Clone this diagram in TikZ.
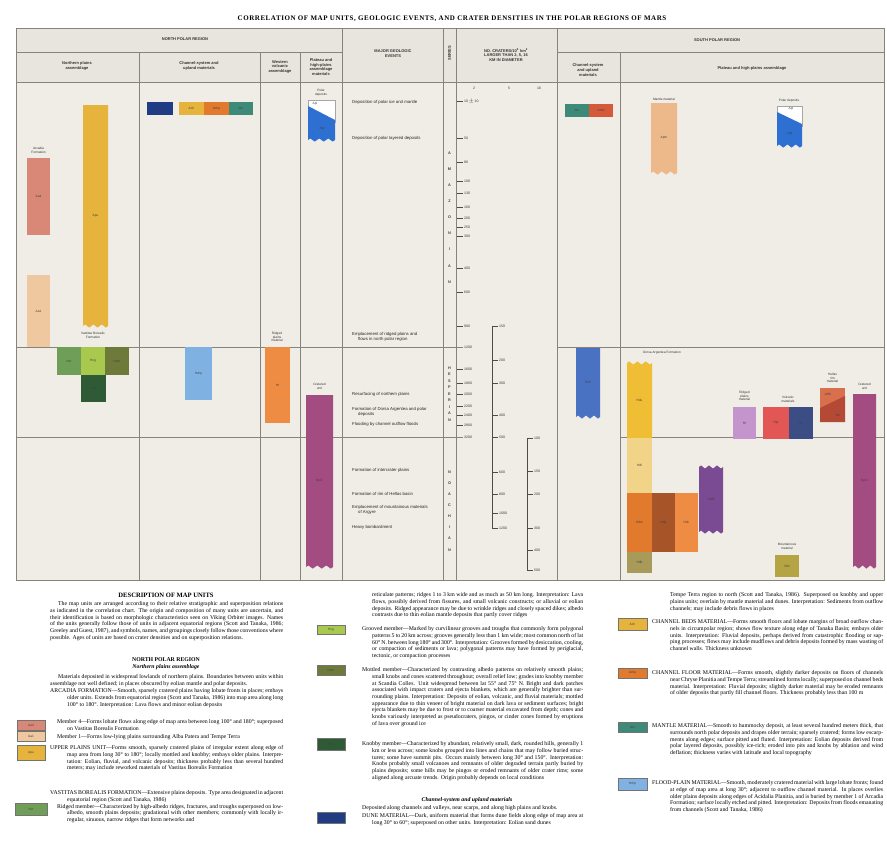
\documentclass[tikz,border=0pt]{standalone}
\usepackage{fontspec}
\setmainfont{Liberation Serif}
\setsansfont{Liberation Sans}
\usetikzlibrary{decorations.pathmorphing}
\definecolor{chartbg}{HTML}{EFEDE6}
\definecolor{headbg}{HTML}{E7E5DD}
\definecolor{gridc}{HTML}{85837C}
\definecolor{cPink}{HTML}{D98878}
\definecolor{cBeige}{HTML}{F0C8A0}
\definecolor{cGold}{HTML}{E6B43C}
\definecolor{cNavy}{HTML}{1F3C84}
\definecolor{cOrange}{HTML}{E27A2E}
\definecolor{cTeal}{HTML}{3E8A78}
\definecolor{cBlue}{HTML}{2E6FD2}
\definecolor{cGreenM}{HTML}{6E9E58}
\definecolor{cGreenL}{HTML}{A9C84E}
\definecolor{cOlive}{HTML}{6E7A3A}
\definecolor{cGreenD}{HTML}{2E5A36}
\definecolor{cSky}{HTML}{7FB2E2}
\definecolor{cOrangeL}{HTML}{EE8C44}
\definecolor{cMagenta}{HTML}{A24C82}
\definecolor{cRed}{HTML}{D45A3A}
\definecolor{cTan}{HTML}{EDB98A}
\definecolor{cBlueS}{HTML}{4A72C2}
\definecolor{cYellow}{HTML}{F0BE34}
\definecolor{cYellowL}{HTML}{F2D488}
\definecolor{cBrown}{HTML}{A65428}
\definecolor{cKhakiD}{HTML}{A89A58}
\definecolor{cPurple}{HTML}{7A4A92}
\definecolor{cLilac}{HTML}{C494CC}
\definecolor{cRose}{HTML}{E25656}
\definecolor{cSlate}{HTML}{3C4C84}
\definecolor{cSalmon}{HTML}{D8704E}
\definecolor{cRust}{HTML}{B44A36}
\definecolor{cKhaki}{HTML}{B4A444}
\tikzset{
  gridline/.style={draw=gridc, line width=0.7pt},
  hdr/.style={font=\sffamily\bfseries\fontsize{4}{4.8}\selectfont, align=center, inner sep=0pt, text=black!80},
  ulbl/.style={font=\sffamily\fontsize{3.2}{3.6}\selectfont, inner sep=0pt, text=black!75},
  olbl/.style={font=\sffamily\fontsize{3.2}{3.8}\selectfont, align=center, inner sep=0.4pt, text=black!80},
  evt/.style={font=\sffamily\fontsize{4.3}{5}\selectfont, anchor=west, align=left, inner sep=0pt, text=black!85},
  num/.style={font=\sffamily\fontsize{3.5}{4}\selectfont, anchor=west, inner sep=0pt, text=black!80},
  tickline/.style={draw=black!70, line width=0.5pt},
  dtxt/.style={font=\fontsize{5.8}{6.7}\selectfont, anchor=north west, inner sep=0pt, align=justify},
  dhead/.style={font=\bfseries\fontsize{5.8}{6}\selectfont, inner sep=0pt},
  swatch/.style={draw=black!55, line width=0.4pt},
  zz/.style={decoration={zigzag, segment length=#1, amplitude=1.6pt}},
}
% name x1 y1 x2 y2 color label
\newcommand{\ubox}[7]{%
  \fill[#6] (#2,#3) rectangle (#4,#5);
  \node[ulbl] (#1) at ({(#2+#4)/2},{(#3+#5)/2}) {#7};}
\newcommand{\wbot}[7]{%
  \pgfmathsetmacro{\segl}{(#4-#2)/3}%
  \fill[#6] (#2,#3) -- (#4,#3) -- (#4,#5) decorate[zz=\segl pt]{-- (#2,#5)} -- cycle;
  \node[ulbl] (#1) at ({(#2+#4)/2},{(#3+#5)/2}) {#7};}
\newcommand{\wtop}[7]{%
  \pgfmathsetmacro{\segl}{(#4-#2)/3}%
  \fill[#6] (#2,#3) decorate[zz=\segl pt]{-- (#4,#3)} -- (#4,#5) -- (#2,#5) -- cycle;
  \node[ulbl] (#1) at ({(#2+#4)/2},{(#3+#5)/2}) {#7};}
\newcommand{\wboth}[7]{%
  \pgfmathsetmacro{\segl}{(#4-#2)/3}%
  \fill[#6] (#2,#3) decorate[zz=\segl pt]{-- (#4,#3)} -- (#4,#5) decorate[zz=\segl pt]{-- (#2,#5)} -- cycle;
  \node[ulbl] (#1) at ({(#2+#4)/2},{(#3+#5)/2}) {#7};}
% name x1 y1 x2 y2 color label (description swatch)
\newcommand{\dsw}[7]{%
  \filldraw[swatch, fill=#6] (#2,#3) rectangle (#4,#5);
  \node[ulbl] (#1) at ({(#2+#4)/2},{(#3+#5)/2}) {#7};}
% hanging-indent paragraph (ends its own paragraph inside the node group)
\newcommand{\hgp}[2]{\hangindent=#1\relax\hangafter=1\relax #2\par}

\begin{document}
\begin{tikzpicture}[x=1pt, y=-1pt]
\useasboundingbox (0,0) rectangle (887,849);
\fill[white] (0,0) rectangle (887,849);

% ---------- title ----------
\node[font=\bfseries\fontsize{7}{7}\selectfont\addfontfeature{LetterSpace=8}, inner sep=0pt] (title) at (452,19)
  {CORRELATION OF MAP UNITS, GEOLOGIC EVENTS, AND CRATER DENSITIES IN THE POLAR REGIONS OF MARS};

% ---------- chart frame ----------
\fill[chartbg] (16,28) rectangle (884,580);
\fill[headbg] (16,28) rectangle (884,82);
\draw[gridline] (16,28) rectangle (884,580);
\draw[gridline] (16,52) -- (342,52);
\draw[gridline] (557,52) -- (884,52);
\draw[gridline] (16,82) -- (884,82);
\foreach \xx in {139,260,300} { \draw[gridline] (\xx,52) -- (\xx,580); }
\foreach \xx in {342,443,456,557} { \draw[gridline] (\xx,28) -- (\xx,580); }
\draw[gridline] (620,52) -- (620,580);
% era boundaries
\draw[gridline] (16,347) -- (463,347);
\draw[gridline] (16,437) -- (463,437);
\draw[gridline] (557,347) -- (884,347);
\draw[gridline] (620,437) -- (884,437);

% ---------- headers ----------
\node[hdr] (hnorth) at (185,39) {NORTH POLAR REGION};
\node[hdr] (hsouth) at (717,40) {SOUTH POLAR REGION};
\node[hdr] (hn1) at (77,66) {Northern plains\\assemblage};
\node[hdr] (hn2) at (199,66) {Channel-system and\\upland materials};
\node[hdr] (hn3) at (280,67) {Western\\volcanic\\assemblage};
\node[hdr] (hn4) at (321,67) {Plateau and\\high-plains\\assemblage\\materials};
\node[hdr] (hev) at (393,54) {MAJOR GEOLOGIC\\EVENTS};
\node[hdr, rotate=90] (hser) at (449.5,53) {SERIES};
\node[hdr] (hcr) at (506,55) {NO. CRATERS/10\textsuperscript{6} km\textsuperscript{2}\\LARGER THAN 2, 5, 16\\KM IN DIAMETER};
\node[hdr] (hs1) at (588,70) {Channel-system\\and upland\\materials};
\node[hdr] (hs2) at (752,68) {Plateau and high-plains assemblage};

% crater size column heads
\node[num, anchor=center] (d2) at (474,88) {2};
\node[num, anchor=center] (d5) at (509,88) {5};
\node[num, anchor=center] (d16) at (539,88) {16};

% ---------- series letters ----------
\foreach \L [count=\i from 0] in {A,M,A,Z,O,N,I,A,N} {
  \node[ulbl, font=\sffamily\bfseries\fontsize{3.8}{4}\selectfont] (sa\i) at (449.5,{153+\i*16.1}) {\L}; }
\foreach \L [count=\i from 0] in {H,E,S,P,E,R,I,A,N} {
  \node[ulbl, font=\sffamily\bfseries\fontsize{3.8}{4}\selectfont] (sh\i) at (449.5,{368+\i*6.5}) {\L}; }
\foreach \L [count=\i from 0] in {N,O,A,C,H,I,A,N} {
  \node[ulbl, font=\sffamily\bfseries\fontsize{3.8}{4}\selectfont] (sn\i) at (449.5,{472+\i*11.1}) {\L}; }

% ---------- crater numbers ----------
\foreach \yy/\tt [count=\i] in {101/10\,$\pm$\,10, 138/50, 162/80, 181/100, 193/130, 207/160, 218/200, 227/250, 236/300, 268/400, 292/600, 326/900, 369/1600, 383/1800, 394/2000, 406/2200, 415/2400, 425/2800} {
  \draw[tickline] (457,\yy) -- (463,\yy);
  \node[num] (na\i) at (464,\yy) {\tt}; }
\node[num] (na0) at (464,347) {1200};
\node[num] (nz0) at (464,437) {3200};
\draw[tickline] (492,326) -- (492,528);
\foreach \yy/\tt [count=\i] in {326/150, 360/200, 383/300, 415/400, 437/500, 472/600, 494/800, 513/1000, 528/1200} {
  \draw[tickline] (492,\yy) -- (498,\yy);
  \node[num] (nb\i) at (499,\yy) {\tt}; }
\draw[tickline] (527,438) -- (527,570);
\foreach \yy/\tt [count=\i] in {438/100, 471/150, 494/200, 528/300, 550/400, 570/500} {
  \draw[tickline] (527,\yy) -- (533,\yy);
  \node[num] (nc\i) at (534,\yy) {\tt}; }

% ---------- events ----------
\node[evt] (e1) at (352,102) {Deposition of polar ice and mantle};
\node[evt] (e2) at (352,138) {Deposition of polar layered deposits};
\node[evt] (e3) at (352,337) {Emplacement of ridged plains and\\\hspace*{6pt}flows in north polar region};
\node[evt] (e4) at (352,394) {Resurfacing of northern plains};
\node[evt] (e5) at (352,412) {Formation of Dorsa Argentea and polar\\\hspace*{6pt}deposits};
\node[evt] (e6) at (352,424) {Flooding by channel outflow floods};
\node[evt] (e7) at (352,470) {Formation of intercrater plains};
\node[evt] (e8) at (352,494) {Formation of rim of Hellas basin};
\node[evt] (e9) at (352,510) {Emplacement of mountainous materials\\\hspace*{6pt}of Argyre};
\node[evt] (e10) at (352,527) {Heavy bombardment};

% ---------- north polar units ----------
\node[olbl] (l-aa) at (38.5,150) {Arcadia\\Formation};
\ubox{aa4}{27}{158}{50}{235}{cPink}{Aa4}
\ubox{aa1}{27}{275}{50}{347}{cBeige}{Aa1}
\wbot{apu}{83}{105}{108}{326}{cGold}{Apu}
\node[olbl] (l-vb) at (93,335) {Vastitas Borealis\\Formation};
\ubox{hvr}{57}{347}{81}{375}{cGreenM}{Hvr}
\ubox{hvg}{81}{347}{105}{375}{cGreenL}{Hvg}
\ubox{hvm}{105}{347}{129}{375}{cOlive}{Hvm}
\ubox{hvk}{81}{375}{106}{402}{cGreenD}{Hvk}
\ubox{ad}{147}{102}{173}{115}{cNavy}{Ad}
\ubox{ach}{179}{102}{204}{115}{cGold}{Ach}
\ubox{achp}{204}{102}{229}{115}{cOrange}{Achp}
\ubox{am}{229}{102}{253}{115}{cTeal}{Am}
\ubox{hchp}{185}{347}{212}{400}{cSky}{Hchp}
\node[olbl] (l-rp) at (277,337) {Ridged\\plains\\material};
\ubox{hr}{265}{347}{290}{423}{cOrangeL}{Hr}
\node[olbl] (l-pd) at (321,93) {Polar\\deposits};
\filldraw[draw=black!35, line width=0.3pt, fill=white] (308,100) rectangle (335,122);
\fill[cBlue] (308,106) -- (335,120) -- (335,140) decorate[zz=9pt]{-- (308,140)} -- cycle;
\node[ulbl] (api) at (315,103.5) {Api};
\node[ulbl] (apl) at (322,129) {Apl};
\node[olbl] (l-cu) at (319.5,386) {Cratered\\unit};
\wbot{npl}{306}{395}{333}{567}{cMagenta}{Npl1}

% ---------- south polar units ----------
\ubox{sam}{565}{104}{589}{117}{cTeal}{Am}
\ubox{samd}{589}{104}{613}{117}{cRed}{Amd}
\node[olbl] (l-mm) at (664,99) {Mantle material};
\wbot{sapm}{651}{103}{677}{173}{cTan}{Apm}
\node[olbl] (l-spd) at (789,101) {Polar deposits};
\filldraw[draw=black!35, line width=0.3pt, fill=white] (777,106) rectangle (802,126);
\fill[cBlue] (777,112) -- (802,124) -- (802,146) decorate[zz=8.33pt]{-- (777,146)} -- cycle;
\node[ulbl] (sapi) at (791,109) {Api};
\node[ulbl] (sapl) at (790,134) {Apl};
\wbot{shch}{576}{348}{600}{417}{cBlueS}{Hch}
\node[olbl] (l-da) at (662,353) {Dorsa Argentea Formation};
\wtop{hdu}{627}{363}{652}{438}{cYellow}{Hdu}
\ubox{hdl}{627}{438}{652}{493}{cYellowL}{Hdl}
\ubox{hdm}{627}{493}{652}{552}{cOrange}{Hdm}
\ubox{hdp}{652}{493}{675}{552}{cBrown}{Hdp}
\ubox{hdc}{675}{493}{698}{552}{cOrangeL}{Hdc}
\ubox{hdb}{627}{552}{652}{573}{cKhakiD}{Hdb}
\wboth{hpl3}{699}{467}{723}{532}{cPurple}{Hpl3}
\node[olbl] (l-srp) at (744.5,396) {Ridged\\plains\\material};
\ubox{shr}{733}{407}{756}{439}{cLilac}{Hr}
\node[olbl] (l-vm) at (788,399) {Volcanic\\materials};
\ubox{hpl}{763}{407}{789}{439}{cRose}{Hpl}
\ubox{hv}{789}{407}{813}{439}{cSlate}{Hv}
\node[olbl] (l-hr) at (832.5,378) {Hellas\\rim\\material};
\fill[cSalmon] (820,388) rectangle (845,422);
\fill[cRust] (820,408) -- (845,396) -- (845,422) -- (820,422) -- cycle;
\node[ulbl] (ahh) at (828,394) {AHh};
\node[ulbl] (hh) at (838,415) {Hh};
\node[olbl] (l-scu) at (864.5,386) {Cratered\\unit};
\wbot{snpl}{853}{394}{876}{567}{cMagenta}{Npl1}
\node[olbl] (l-mtn) at (787,546) {Mountainous\\material};
\ubox{nm}{775}{555}{799}{577}{cKhaki}{Nm}

% ---------- description of map units ----------
\node[dhead, font=\bfseries\fontsize{6.6}{7}\selectfont] (dtitle) at (166,595) {DESCRIPTION OF MAP UNITS};
\node[dtxt, text width=233pt] (dintro) at (50,601.5) {\hspace*{8pt}The map units are arranged according to their relative stratigraphic and superposition relations as indicated in the correlation chart. The origin and composition of many units are uncertain, and their identification is based on morphologic characteristics seen on Viking Orbiter images. Names of the units generally follow those of units in adjacent equatorial regions (Scott and Tanaka, 1986; Greeley and Guest, 1987), and symbols, names, and groupings closely follow those conventions where possible. Ages of units are based on crater densities and on superposition relations.};
\node[dhead] (dnpr) at (166,660) {NORTH POLAR REGION};
\node[dhead, font=\bfseries\itshape\fontsize{5.8}{6}\selectfont] (dnpa) at (166,667.5) {Northern plains assemblage};
\node[dtxt, text width=233pt] (dnpp) at (50,674.5) {\hspace*{8pt}Materials deposited in widespread lowlands of northern plains. Boundaries between units within assemblage not well defined; in places obscured by eolian mantle and polar deposits.};
\node[dtxt, text width=233pt] (darc) at (50,688.5) {\hgp{17pt}{ARCADIA FORMATION—Smooth, sparsely cratered plains having lobate fronts in places; embays older units. Extends from equatorial region (Scott and Tanaka, 1986) into map area along long 100° to 180°. Interpretation: Lava flows and minor eolian deposits}};
\node[dtxt, text width=226pt] (dm4) at (57,719.5) {\hgp{10pt}{Member 4—Forms lobate flows along edge of map area between long 100° and 180°; superposed on Vastitas Borealis Formation}};
\node[dtxt, text width=226pt] (dm1) at (57,734) {\hgp{10pt}{Member 1—Forms low-lying plains surrounding Alba Patera and Tempe Terra}};
\node[dtxt, text width=233pt] (dapu) at (50,745.5) {\hgp{17pt}{UPPER PLAINS UNIT—Forms smooth, sparsely cratered plains of irregular extent along edge of map area from long 30° to 180°; locally mottled and knobby; embays older plains. Interpretation: Eolian, fluvial, and volcanic deposits; thickness probably less than several hundred meters; may include reworked materials of Vastitas Borealis Formation}};
\node[dtxt, text width=233pt] (dvb) at (50,790.5) {\hgp{17pt}{VASTITAS BOREALIS FORMATION—Extensive plains deposits. Type area designated in adjacent equatorial region (Scott and Tanaka, 1986)}};
\node[dtxt, text width=226pt] (dhvr) at (57,804) {\hgp{10pt}{Ridged member—Characterized by high-albedo ridges, fractures, and troughs superposed on low-albedo, smooth plains deposits; gradational with other members; commonly with locally irregular, sinuous, narrow ridges that form networks and}};
\dsw{sw-aa4}{17}{720}{45}{730}{cPink}{Aa4}
\dsw{sw-aa1}{17}{731}{45}{741}{cBeige}{Aa1}
\dsw{sw-apu}{17}{745}{45}{760}{cGold}{Apu}
\dsw{sw-hvr}{15}{803}{47}{815}{cGreenM}{Hvr}

% middle column
\node[dtxt, text width=211pt] (dmc) at (372,592.5) {reticulate patterns; ridges 1 to 3 km wide and as much as 50 km long. Interpretation: Lava flows, possibly derived from fissures, and small volcanic constructs; or alluvial or eolian deposits. Ridged appearance may be due to wrinkle ridges and closely spaced dikes; albedo contrasts due to thin eolian mantle deposits that partly cover ridges};
\node[dtxt, text width=221pt] (dhvg) at (362,626.5) {\hgp{10pt}{Grooved member—Marked by curvilinear grooves and troughs that commonly form polygonal patterns 5 to 20 km across; grooves generally less than 1 km wide; most common north of lat 60° N. between long 180° and 300°. Interpretation: Grooves formed by desiccation, cooling, or compaction of sediments or lava; polygonal patterns may have formed by periglacial, tectonic, or compaction processes}};
\node[dtxt, text width=221pt] (dhvm) at (362,667.5) {\hgp{10pt}{Mottled member—Characterized by contrasting albedo patterns on relatively smooth plains; small knobs and cones scattered throughout; overall relief low; grades into knobby member at Scandia Colles. Unit widespread between lat 55° and 75° N. Bright and dark patches associated with impact craters and ejecta blankets, which are generally brighter than surrounding plains. Interpretation: Deposits of eolian, volcanic, and fluvial materials; mottled appearance due to thin veneer of bright material on dark lava or sediment surfaces; bright ejecta blankets may be due to frost or to coarser material excavated from depth; cones and knobs variously interpreted as pseudocraters, pingos, or cinder cones formed by eruptions of lava over ground ice}};
\node[dtxt, text width=221pt] (dhvk) at (362,741.5) {\hgp{10pt}{Knobby member—Characterized by abundant, relatively small, dark, rounded hills, generally 1 km or less across; some knobs grouped into lines and chains that may follow buried structures; some have summit pits. Occurs mainly between long 30° and 150°. Interpretation: Knobs probably small volcanoes and remnants of older degraded terrain partly buried by plains deposits; some hills may be pingos or eroded remnants of older crater rims; some aligned along arcuate trends. Origin probably depends on local conditions}};
\node[dhead, font=\bfseries\itshape\fontsize{5.8}{6}\selectfont] (dcsh) at (467,800) {Channel-system and upland materials};
\node[dtxt, text width=221pt] (dcsp) at (362,805.5) {Deposited along channels and valleys, near scarps, and along high plains and knobs.};
\node[dtxt, text width=221pt] (dad) at (362,813.5) {\hgp{10pt}{DUNE MATERIAL—Dark, uniform material that forms dune fields along edge of map area at long 30° to 60°; superposed on other units. Interpretation: Eolian sand dunes}};
\dsw{sw-hvg}{317}{625}{345}{634}{cGreenL}{Hvg}
\dsw{sw-hvm}{317}{665}{345}{675}{cOlive}{Hvm}
\dsw{sw-hvk}{317}{738}{345}{750}{cGreenD}{Hvk}
\dsw{sw-ad}{317}{812}{345}{823}{cNavy}{Ad}

% right column
\node[dtxt, text width=213pt] (drc) at (670,592.5) {Tempe Terra region to north (Scott and Tanaka, 1986). Superposed on knobby and upper plains units; overlain by mantle material and dunes. Interpretation: Sediments from outflow channels; may include debris flows in places};
\node[dtxt, text width=231pt] (dach) at (652,619.5) {\hgp{18pt}{CHANNEL BEDS MATERIAL—Forms smooth floors and lobate margins of broad outflow channels in circumpolar region; shows flow texture along edge of Tanaka Basin; embays older units. Interpretation: Fluvial deposits, perhaps derived from catastrophic flooding or sapping processes; flows may include mudflows and debris deposits formed by mass wasting of channel walls. Thickness unknown}};
\node[dtxt, text width=231pt] (dachp) at (652,670.5) {\hgp{18pt}{CHANNEL FLOOR MATERIAL—Forms smooth, slightly darker deposits on floors of channels near Chryse Planitia and Tempe Terra; streamlined forms locally; superposed on channel beds material. Interpretation: Fluvial deposits; slightly darker material may be eroded remnants of older deposits that partly fill channel floors. Thickness probably less than 100 m}};
\node[dtxt, text width=231pt] (dam) at (652,723.5) {\hgp{18pt}{MANTLE MATERIAL—Smooth to hummocky deposit, at least several hundred meters thick, that surrounds north polar deposits and drapes older terrain; sparsely cratered; forms low escarpments along edges; surface pitted and fluted. Interpretation: Eolian deposits derived from polar layered deposits, possibly ice-rich; eroded into pits and knobs by ablation and wind deflation; thickness varies with latitude and local topography}};
\node[dtxt, text width=231pt] (dhchp) at (652,780.5) {\hgp{18pt}{FLOOD-PLAIN MATERIAL—Smooth, moderately cratered material with large lobate fronts; found at edge of map area at long 30°; adjacent to outflow channel material. In places overlies older plains deposits along edges of Acidalia Planitia, and is buried by member 1 of Arcadia Formation; surface locally etched and pitted. Interpretation: Deposits from floods emanating from channels (Scott and Tanaka, 1986)}};
\dsw{sw-ach}{618}{618}{647}{630}{cGold}{Ach}
\dsw{sw-achp}{618}{668}{647}{678}{cOrange}{Achp}
\dsw{sw-am}{618}{722}{647}{732}{cTeal}{Am}
\dsw{sw-hchp}{618}{778}{647}{790}{cSky}{Hchp}
\end{tikzpicture}
\end{document}
